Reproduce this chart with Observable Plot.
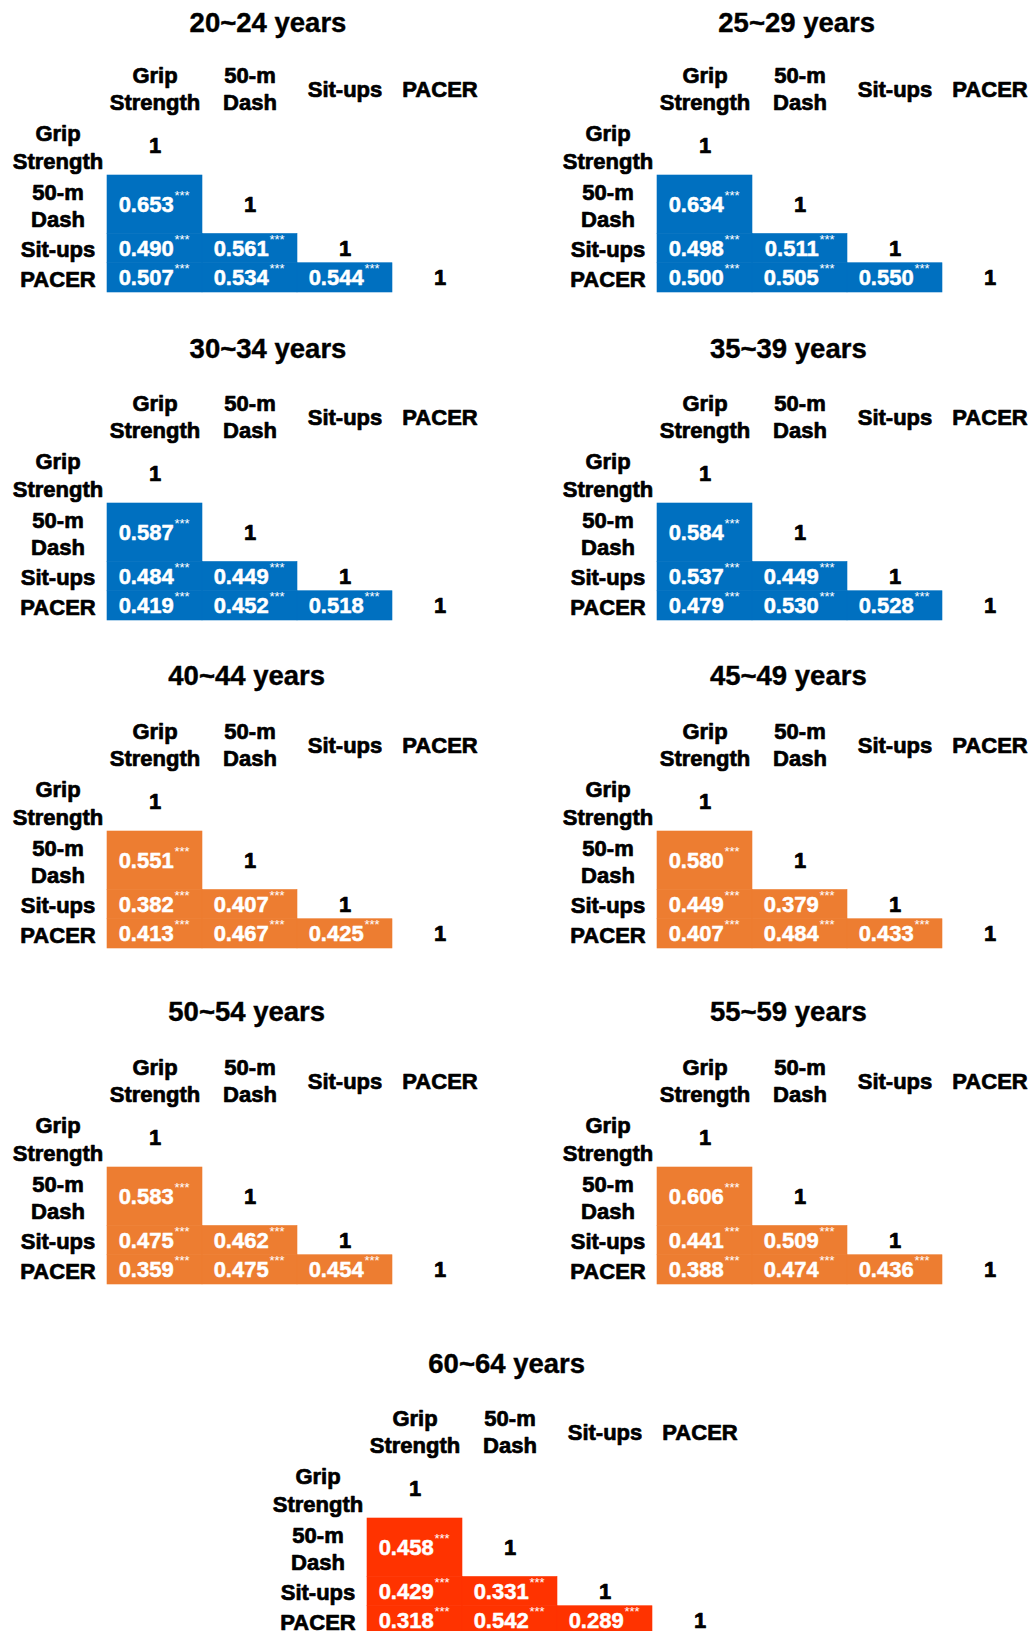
<!DOCTYPE html>
<html><head><meta charset="utf-8">
<script src="https://cdn.jsdelivr.net/npm/d3@7"></script>
<script src="https://cdn.jsdelivr.net/npm/@observablehq/plot@0.6"></script>
<style>
html,body{margin:0;padding:0;background:#fff;overflow:hidden;}
#root{position:relative;width:1032px;height:1631px;overflow:hidden;font-family:"Liberation Sans",Arial,sans-serif;}
.title{position:absolute;font-weight:bold;font-size:27.5px;line-height:27.5px;white-space:nowrap;transform:translateX(-50%);color:#000;-webkit-text-stroke:0.4px #000;}
.panel{position:absolute;width:480px;}
.panel svg{overflow:visible;max-width:none !important;}
</style></head><body><div id="root"></div>
<script>
// ---------- data ----------
const variables = ["Grip Strength", "50-m Dash", "Sit-ups", "PACER"];
const variableLabels = ["Grip\nStrength", "50-m\nDash", "Sit-ups", "PACER"];
const ageGroups = ["20~24 years", "25~29 years", "30~34 years", "35~39 years",
  "40~44 years", "45~49 years", "50~54 years", "55~59 years", "60~64 years"];
// lower triangle, order: (Dash,Grip), (Sit,Grip), (Sit,Dash), (PACER,Grip), (PACER,Dash), (PACER,Sit)
const r20_24 = [0.653, 0.490, 0.561, 0.507, 0.534, 0.544];
const r25_29 = [0.634, 0.498, 0.511, 0.500, 0.505, 0.550];
const r30_34 = [0.587, 0.484, 0.449, 0.419, 0.452, 0.518];
const r35_39 = [0.584, 0.537, 0.449, 0.479, 0.530, 0.528];
const r40_44 = [0.551, 0.382, 0.407, 0.413, 0.467, 0.425];
const r45_49 = [0.580, 0.449, 0.379, 0.407, 0.484, 0.433];
const r50_54 = [0.583, 0.475, 0.462, 0.359, 0.475, 0.454];
const r55_59 = [0.606, 0.441, 0.509, 0.388, 0.474, 0.436];
const r60_64 = [0.458, 0.429, 0.331, 0.318, 0.542, 0.289];
const significance = "***";
const correlations = [r20_24, r25_29, r30_34, r35_39, r40_44, r45_49, r50_54, r55_59, r60_64];

// ---------- styles / layout ----------
const panelFills = ["#0070C0", "#0070C0", "#0070C0", "#0070C0",
  "#ED7D31", "#ED7D31", "#ED7D31", "#ED7D31", "#FF3300"];
// [cell-grid left, cell-grid top, title centre x, title baseline]
const layout = [
  [105.7, 175, 268, 32], [656, 175, 796.7, 32],
  [105.7, 502.7, 268, 358.3], [656, 502.7, 788.3, 358.3],
  [105.7, 830.7, 246.7, 685], [656, 830.7, 788.3, 685],
  [105.7, 1166.7, 246.7, 1021.7], [656, 1166.7, 788.3, 1021.7],
  [365.7, 1517.7, 506.7, 1373.3]
];
const colW = 95.7, lineU = 29.25, font = "Liberation Sans, Arial, sans-serif";

// rows derived from label line counts
let acc = 0;
const rows = variables.map((v, i) => {
  const n = variableLabels[i].split("\n").length;
  const r = {name: v, label: variableLabels[i], y1: acc, y2: acc + n, ym: acc + n / 2};
  acc += n; return r;
});
const totalLines = acc;

const root = document.getElementById("root");
ageGroups.forEach((g, p) => {
  const vals = correlations[p];
  const cells = []; let k = 0;
  for (let i = 1; i < variables.length; i++)
    for (let j = 0; j < i; j++)
      cells.push({group: g, row: variables[i], col: variables[j], value: vals[k++], y1: rows[i].y1, y2: rows[i].y2, ym: rows[i].ym});

  const blackText = {fill: "black", stroke: "black", strokeWidth: 0.7, fontWeight: "bold", fontSize: 22};
  const chart = Plot.plot({
    width: colW * 5, height: lineU * (totalLines + 2),
    margin: 0,
    style: {fontFamily: font, background: "transparent", overflow: "visible"},
    x: {type: "band", domain: ["", ...variables], padding: 0, axis: null},
    y: {domain: [-2, totalLines], reverse: true, axis: null},
    color: {domain: ageGroups, range: panelFills},
    marks: [
      Plot.barY(cells, {x: "col", y1: "y1", y2: "y2", fill: "group", stroke: "group", strokeWidth: 0.6, inset: 0}),
      Plot.text(cells, {x: "col", y: "ym", text: d => d.value.toFixed(3), fill: "white", stroke: "white", strokeWidth: 0.5, fontWeight: "bold", fontSize: 22, textAnchor: "end", dx: 18.7}),
      Plot.text(cells, {x: "col", y: "ym", text: () => significance, fill: "white", fontSize: 13, textAnchor: "start", dx: 19.5, dy: -9}),
      Plot.text(rows, {x: "name", y: "ym", text: () => "1", ...blackText}),
      Plot.text(rows, {x: () => "", y: "ym", text: "label", lineHeight: 1.25, dx: -2, ...blackText}),
      Plot.text(rows, {x: "name", y: () => -1, text: "label", lineHeight: 1.25, ...blackText})
    ]
  });
  const [gx, gy, tx, tb] = layout[p];
  const div = document.createElement("div");
  div.className = "panel";
  div.style.left = (gx - colW) + "px";
  div.style.top = (gy - 4 * lineU) + "px";
  div.appendChild(chart);
  root.appendChild(div);

  const t = document.createElement("div");
  t.className = "title";
  t.textContent = g;
  t.style.left = tx + "px";
  t.style.top = (tb - 0.8465 * 27.5) + "px";
  root.appendChild(t);
});
</script></body></html>
